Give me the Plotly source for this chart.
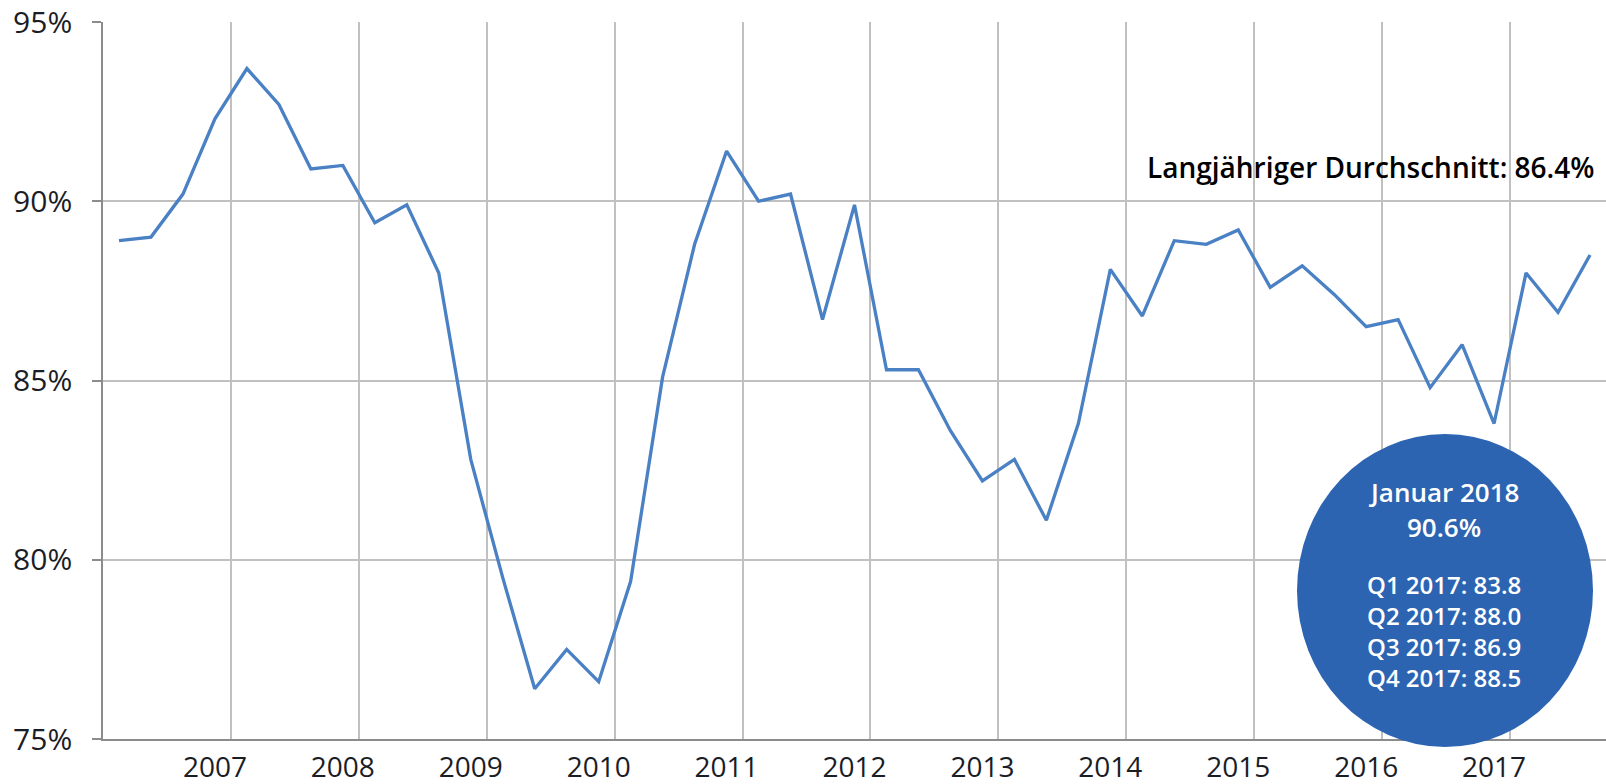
import plotly.graph_objects as go

# Quarterly values, Q2 2006 .. Q4 2017 (percent)
values = [88.9, 89.0, 90.2, 92.3, 93.7, 92.7, 90.9, 91.0, 89.4, 89.9,
          88.0, 82.8, 79.5, 76.4, 77.5, 76.6, 79.4, 85.1, 88.8, 91.4,
          90.0, 90.2, 86.7, 89.9, 85.3, 85.3, 83.6, 82.2, 82.8, 81.1,
          83.8, 88.1, 86.8, 88.9, 88.8, 89.2, 87.6, 88.2, 87.4, 86.5,
          86.7, 84.8, 86.0, 83.8, 88.0, 86.9, 88.5]
year_labels = ["2007", "2008", "2009", "2010", "2011", "2012",
               "2013", "2014", "2015", "2016", "2017"]
y_ticks = [75, 80, 85, 90, 95]
avg_text = "Langjähriger Durchschnitt: 86.4%"
circle_title = ["Januar 2018", "90.6%"]
circle_lines = ["Q1 2017: 83.8", "Q2 2017: 88.0", "Q3 2017: 86.9", "Q4 2017: 88.5"]

x_idx = list(range(len(values)))
label_pos = [3 + 4 * i for i in range(len(year_labels))]
grid_pos = [p + 0.5 for p in label_pos]

FONT = "Open Sans"
W, H = 1606, 784
L, R, T, B = 103, 0, 22, 45
pw, ph = W - L - R, H - T - B


def px(x):
    return (x - L) / pw


def py(y):
    return (H - B - y) / ph


fig = go.Figure()
fig.add_trace(go.Scatter(
    x=x_idx, y=values, mode="lines",
    line=dict(color="#4a80c4", width=3.3),
    hoverinfo="y", showlegend=False,
))

fig.update_layout(
    width=W, height=H,
    margin=dict(l=L, r=R, t=T, b=B, pad=0, autoexpand=False),
    paper_bgcolor="white", plot_bgcolor="white",
    font=dict(family=FONT, color="#1b1d26"),
    xaxis=dict(
        range=[-0.5, len(values) - 0.5], automargin=False,
        tickmode="array", tickvals=label_pos, ticktext=year_labels,
        tickfont=dict(size=28, family=FONT, color="#1b1d26"),
        showgrid=False, zeroline=False,
        showline=True, linecolor="#8c8c8c", linewidth=1.6,
        ticks="", ticklabelstandoff=3,
        minor=dict(tickmode="array", tickvals=grid_pos, showgrid=True,
                   gridcolor="#c0c0c0", gridwidth=1.6, ticks=""),
    ),
    yaxis=dict(
        range=[75, 95], tickmode="array", tickvals=y_ticks, automargin=False,
        ticktext=[f"{v}%" for v in y_ticks],
        tickfont=dict(size=30, family=FONT, color="#1b1d26"),
        showgrid=True, gridcolor="#c0c0c0", gridwidth=1.6,
        zeroline=False, showline=True, linecolor="#8c8c8c", linewidth=1.6,
        ticks="outside", ticklen=9, tickcolor="#8c8c8c", tickwidth=1.5,
        ticklabelstandoff=14,
    ),
)

# Blue circle
fig.add_shape(type="circle", xref="paper", yref="paper",
              x0=px(1297), x1=px(1593), y0=py(747), y1=py(434),
              fillcolor="#2c64b1", line=dict(width=0), layer="above")

cx = px(1444)
fig.add_annotation(text=circle_title[0], xref="paper", yref="paper",
                   x=cx, y=py(492), showarrow=False, xanchor="center", yanchor="middle",
                   font=dict(size=26, color="white", family=FONT, weight=600))
fig.add_annotation(text=circle_title[1], xref="paper", yref="paper",
                   x=cx, y=py(527), showarrow=False, xanchor="center", yanchor="middle",
                   font=dict(size=26, color="white", family=FONT, weight=600))
for i, t in enumerate(circle_lines):
    fig.add_annotation(text=t, xref="paper", yref="paper",
                       x=cx, y=py(584 + 31 * i), showarrow=False,
                       xanchor="center", yanchor="middle",
                       font=dict(size=24, color="white", family=FONT, weight=600))

fig.add_annotation(text=avg_text, xref="paper", yref="paper",
                   x=px(1596), y=py(167), showarrow=False,
                   xanchor="right", yanchor="middle",
                   font=dict(size=28, color="black", family=FONT, weight=600))

fig.write_html("out.html",
               config={"displayModeBar": False},
               post_script="document.body.style.margin='0';"
                           "document.body.style.overflow='hidden';")
